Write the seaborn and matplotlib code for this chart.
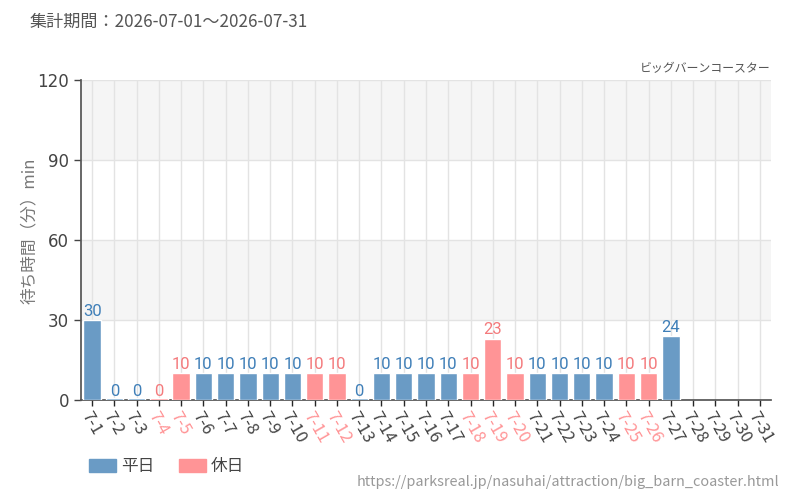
import numpy as np
import pandas as pd
import matplotlib
matplotlib.use("Agg")
import matplotlib.pyplot as plt
import seaborn as sns
from matplotlib.patches import Patch

# data
dates = [f"7-{d}" for d in range(1, 32)]
waits = [30, 0, 0, 0, 10, 10, 10, 10, 10, 10, 10, 10, 0, 10, 10, 10, 10, 10, 23, 10,
         10, 10, 10, 10, 10, 10, 24, None, None, None, None]
holidays = ["7-4", "7-5", "7-11", "7-12", "7-18", "7-19", "7-20", "7-25", "7-26"]
y_ticks = [0, 30, 60, 90, 120]

title = "集計期間：2026-07-01～2026-07-31"
ride = "ビッグバーンコースター"
y_label = "待ち時間（分）min"
source = "https://parksreal.jp/nasuhai/attraction/big_barn_coaster.html"

blue, pink = "#6a9bc5", "#ff9496"
blue_txt, pink_txt = "#3f7fb8", "#f47a7c"

sns.set_theme(style="white")
plt.rcParams["font.family"] = ["Noto Sans CJK JP", "DejaVu Sans"]

df = pd.DataFrame({"date": dates, "wait": waits})
df["type"] = np.where(df["date"].isin(holidays), "休日", "平日")
df = df.dropna(subset=["wait"])
df["shown"] = df["wait"].clip(lower=0.6)  # keep zero bars visible as a thin line

fig = plt.figure(figsize=(8, 5), dpi=100)
ax = fig.add_axes([81 / 800, 0.2, 690 / 800, 0.64])

# alternating bands
for i in range(len(y_ticks) - 1):
    if i % 2 == 1:
        ax.axhspan(y_ticks[i], y_ticks[i + 1], color="#f5f5f5", zorder=0, lw=0)

sns.barplot(data=df, x="date", y="shown", hue="type", order=dates,
            hue_order=["平日", "休日"], palette=[blue, pink], dodge=False,
            width=0.78, saturation=1, ax=ax, legend=False, zorder=3)

ax.set_xlim(-0.5, len(dates) - 0.5)
ax.set_ylim(0, 120)
ax.set_yticks(y_ticks)
for i in range(len(dates)):
    ax.axvline(i, color="#e3e3e3", lw=1, zorder=1)
for y in y_ticks[1:]:
    ax.axhline(y, color="#e3e3e3", lw=1, zorder=1)

# value labels
for _, r in df.iterrows():
    i = dates.index(r["date"])
    c = pink_txt if r["type"] == "休日" else blue_txt
    ax.text(i, r["wait"] + 0.5, f"{int(r['wait'])}", ha="center", va="bottom",
            fontsize=12, color=c, family=["Roboto", "DejaVu Sans"], zorder=4)

ax.set_xlabel("")
ax.set_ylabel(y_label, color="#777777", fontsize=12)
ax.yaxis.set_label_coords(-0.062, 0.53)
ax.tick_params(axis="y", labelsize=12, colors="#444444", length=5, width=1, direction="out", left=True)
ax.tick_params(axis="x", length=4, width=1, direction="out", bottom=True, pad=2)
ax.set_xticks(range(len(dates)))
ax.set_xticklabels(dates, rotation=-60, ha="left", rotation_mode="anchor", fontsize=12)
for lbl in ax.get_xticklabels():
    lbl.set_color(pink if lbl.get_text() in holidays else "#444444")
for lbl in ax.get_yticklabels():
    lbl.set_family(["DejaVu Sans"])

for s in ["top", "right"]:
    ax.spines[s].set_visible(False)
ax.spines["left"].set_color("#555555")
ax.spines["bottom"].set_color("#555555")

fig.text(30 / 800, 1 - 22 / 500, title, fontsize=12.3, color="#555555", va="center")
fig.text(770 / 800, 1 - 69 / 500, ride, fontsize=8.6, color="#555555", ha="right", va="center")
fig.text(779 / 800, 1 - 482 / 500, source, fontsize=10.4, color="#999999", ha="right", va="center")

handles = [Patch(color=blue, label="平日"), Patch(color=pink, label="休日")]
fig.legend(handles=handles, loc="center left", bbox_to_anchor=(89 / 800, 1 - 467 / 500),
           ncol=2, frameon=False, fontsize=12, handlelength=1.6, handleheight=0.8,
           columnspacing=1.5, handletextpad=0.3, labelcolor="#444444",
           borderpad=0, borderaxespad=0)

fig.savefig("out.png", dpi=100)
